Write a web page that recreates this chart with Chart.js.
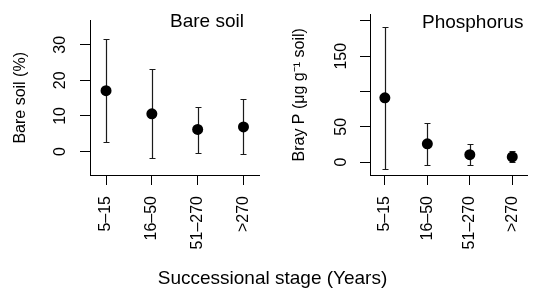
<!DOCTYPE html>
<html><head><meta charset="utf-8">
<script src="https://cdn.jsdelivr.net/npm/chart.js@4"></script>
<style>
html,body{margin:0;padding:0;background:#fff;}
#wrap{position:relative;width:543px;height:295px;overflow:hidden;font-family:"Liberation Sans",Arial,Helvetica,sans-serif;color:#000;}
canvas{position:absolute;top:0;}
.t{position:absolute;line-height:1;white-space:nowrap;font-size:19px;}
</style></head><body>
<div id="wrap">
<canvas id="c1" width="275" height="295" style="left:0"></canvas>
<canvas id="c2" width="268" height="295" style="left:275px"></canvas>
<div class="t" style="left:170px;top:11px">Bare soil</div>
<div class="t" style="left:422px;top:12px">Phosphorus</div>
<div class="t" style="left:0;width:545px;text-align:center;top:268px">Successional stage (Years)</div>
</div>
<script>
const stages = ['5–15', '16–50', '51–270', '>270'];
const bareMean = [17.1, 10.6, 6.2, 6.9];
const bareLow  = [2.7, -1.8, -0.3, -0.8];
const bareHigh = [31.5, 23.3, 12.6, 14.8];
const phosMean = [91, 26, 10.6, 7.4];
const phosLow  = [-9.3, -3.6, -3.6, -0.5];
const phosHigh = [191.8, 55.7, 25.2, 15.9];
const bareTicks = [0, 10, 20, 30];
const bareTickLabels = ['0', '10', '20', '30'];
const phosTicks = [0, 50, 100, 150, 200];
const phosTickLabels = ['0', '50', '', '150', ''];

const FONT = '"Liberation Sans", Arial, Helvetica, sans-serif';

function errorBarPlugin(low, high) {
  return {
    id: 'errorBars',
    beforeDatasetsDraw(chart) {
      const {ctx, scales: {x, y}} = chart;
      ctx.save();
      ctx.strokeStyle = '#1a1a1a';
      ctx.lineWidth = 1.2;
      low.forEach((lo, i) => {
        const px = Math.round(x.getPixelForValue(i + 1)) + 0.5;
        const y1 = Math.round(y.getPixelForValue(high[i])) + 0.5;
        const y2 = Math.round(y.getPixelForValue(lo)) + 0.5;
        ctx.beginPath();
        ctx.moveTo(px, y1); ctx.lineTo(px, y2);
        ctx.moveTo(px - 3, y1); ctx.lineTo(px + 3, y1);
        ctx.moveTo(px - 3, y2); ctx.lineTo(px + 3, y2);
        ctx.stroke();
      });
      ctx.restore();
    }
  };
}

function makeChart(id, mean, low, high, yMin, yMax, yTicks, yLabels, yTitle, o) {
  const gridOpts = {display: true, drawOnChartArea: false, drawTicks: true, tickLength: 10, color: '#000', lineWidth: 1};
  return new Chart(document.getElementById(id), {
    type: 'scatter',
    data: {
      datasets: [{
        data: mean.map((v, i) => ({x: i + 1, y: v})),
        pointRadius: 5.5, pointHoverRadius: 5.5,
        backgroundColor: '#000', borderColor: '#000', borderWidth: 0,
        showLine: false
      }]
    },
    options: {
      responsive: false, animation: false, events: [],
      layout: {padding: {top: 4, right: o.padRight, left: 0, bottom: 0}},
      plugins: {legend: {display: false}, tooltip: {enabled: false}},
      scales: {
        x: {
          type: 'linear', min: 0.65, max: 4.35,
          afterBuildTicks: s => { s.ticks = stages.map((_, i) => ({value: i + 1})); },
          afterFit: s => { s.height = 120; },
          grid: gridOpts,
          border: {display: true, color: '#000', width: 1},
          ticks: {
            callback: (v, i) => stages[i],
            minRotation: 90, maxRotation: 90, autoSkip: false, padding: 11,
            color: '#000', font: {family: FONT, size: 16}
          }
        },
        y: {
          type: 'linear', min: yMin, max: yMax,
          afterBuildTicks: s => { s.ticks = yTicks.map(v => ({value: v})); },
          afterFit: s => { s.width = o.yWidth; },
          grid: gridOpts,
          border: {display: true, color: '#000', width: 1},
          ticks: {
            callback: (v, i) => yLabels[i],
            minRotation: 90, maxRotation: 90, crossAlign: 'center', autoSkip: false,
            padding: o.tickPad, color: '#000', font: {family: FONT, size: 16}
          },
          title: {
            display: true, text: yTitle, color: '#000',
            font: {family: FONT, size: 16}, padding: {top: o.titlePad, bottom: 0}
          }
        }
      }
    },
    plugins: [errorBarPlugin(low, high)]
  });
}

makeChart('c1', bareMean, bareLow, bareHigh, -6.6, 36.8, bareTicks, bareTickLabels,
  'Bare soil (%)', {padRight: 14, yWidth: 90, tickPad: 11, titlePad: 11});
makeChart('c2', phosMean, phosLow, phosHigh, -18.2, 208.9, phosTicks, phosTickLabels,
  'Bray P (μg g⁻¹ soil)', {padRight: 3, yWidth: 95, tickPad: 5, titlePad: 15});
</script>
</body></html>
